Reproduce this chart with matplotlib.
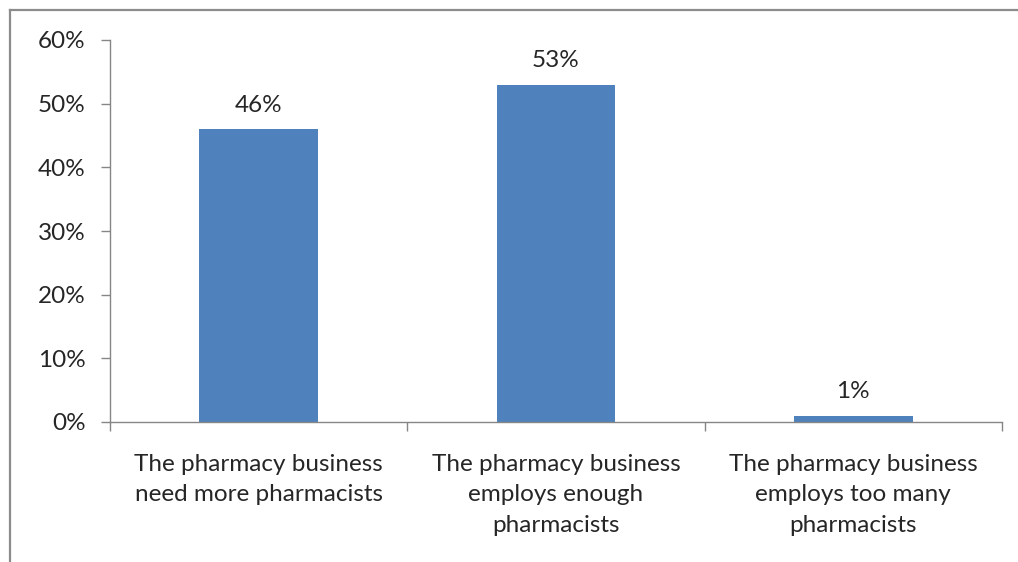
import matplotlib
matplotlib.use("Agg")
import matplotlib.pyplot as plt
from matplotlib.lines import Line2D
from matplotlib.ticker import FuncFormatter

categories = [
    "The pharmacy business\nneed more pharmacists",
    "The pharmacy business\nemploys enough\npharmacists",
    "The pharmacy business\nemploys too many\npharmacists",
]
values = [46, 53, 1]
y_ticks = [0, 10, 20, 30, 40, 50, 60]

bar_color = "#4F81BD"
axis_color = "#868686"
text_color = "#262626"
plt.rcParams["font.family"] = ["Lato", "DejaVu Sans"]
fs = 17.5

W, H = 1018, 562
fig = plt.figure(figsize=(W / 100, H / 100), dpi=100)
fig.patch.set_facecolor("white")

# outer chart frame (top and left edges)
fig.add_artist(Line2D([10 / W, 10 / W], [0, 1 - 10 / H], transform=fig.transFigure,
                      color="#8c8c8c", lw=1.6))
fig.add_artist(Line2D([10 / W, 1], [1 - 10 / H, 1 - 10 / H], transform=fig.transFigure,
                      color="#8c8c8c", lw=1.6))

ax = fig.add_axes([110 / W, 1 - 422 / H, 892 / W, (422 - 40) / H])
x = list(range(len(categories)))
bars = ax.bar(x, values, width=0.40, color=bar_color, zorder=2)

ax.set_xlim(-0.5, len(categories) - 0.5)
ax.set_ylim(0, 60)
ax.set_yticks(y_ticks)
ax.yaxis.set_major_formatter(FuncFormatter(lambda v, p: f"{v:.0f}%"))

ax.set_xticks([i - 0.5 for i in range(len(categories) + 1)])
ax.set_xticklabels([])
ax.set_xticks(x, minor=True)
ax.set_xticklabels(categories, minor=True)

for s in ["top", "right"]:
    ax.spines[s].set_visible(False)
for s in ["left", "bottom"]:
    ax.spines[s].set_color(axis_color)
    ax.spines[s].set_linewidth(1.0)

ax.tick_params(axis="y", which="major", direction="out", length=6.5, width=1.0,
               color=axis_color, labelsize=fs, labelcolor=text_color, pad=11)
ax.tick_params(axis="x", which="major", direction="out", length=6.5, width=1.0,
               color=axis_color)
ax.tick_params(axis="x", which="minor", length=0, labelsize=fs,
               labelcolor=text_color, pad=23)
for lab in ax.get_xticklabels(minor=True):
    lab.set_linespacing(1.55)
    lab.set_verticalalignment("top")

for b, v in zip(bars, values):
    ax.annotate(f"{v}%", (b.get_x() + b.get_width() / 2, v), xytext=(0, 9.5),
                textcoords="offset points", ha="center", va="bottom",
                fontsize=fs, color=text_color)

fig.savefig("out.png", dpi=100, facecolor="white")
